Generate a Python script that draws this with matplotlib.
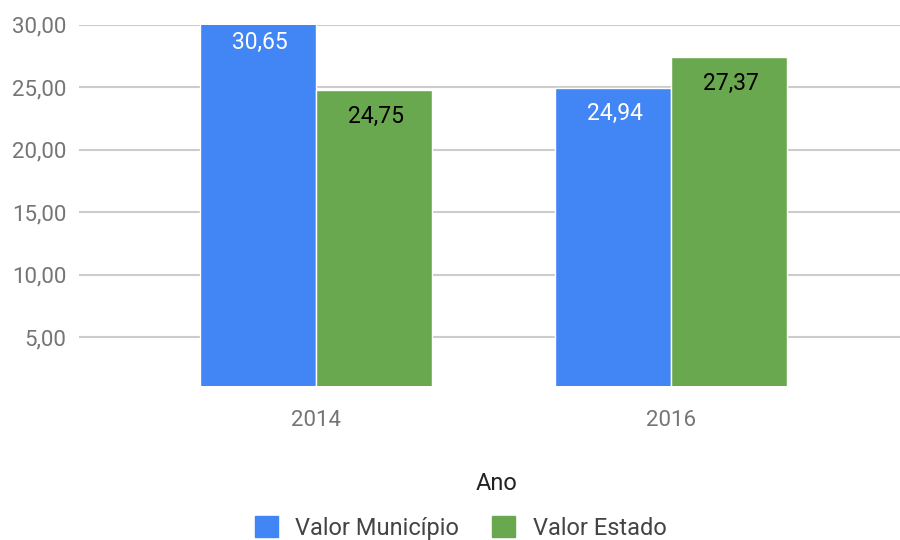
import matplotlib
matplotlib.use("Agg")
import matplotlib.pyplot as plt
from matplotlib.ticker import FuncFormatter
from matplotlib.patches import Patch
import numpy as np

plt.rcParams['font.family'] = ['Roboto', 'DejaVu Sans']

years = ["2014", "2016"]
series_names = ["Valor Município", "Valor Estado"]
valor_municipio = [30.65, 24.94]
valor_estado = [24.75, 27.37]
colors = ["#4285F4", "#6AA84F"]
label_colors = ["white", "black"]
yticks = [5, 10, 15, 20, 25, 30]

fig = plt.figure(figsize=(9, 5.4), dpi=100)
ax = fig.add_axes([79/900, 1-386/540, 1-79/900, (386-24.5)/540])

x = np.arange(len(years))
w = 0.327
for i, (vals, c, lc) in enumerate(zip([valor_municipio, valor_estado], colors, label_colors)):
    pos = x + (i - 0.5) * w
    ax.bar(pos, vals, width=w, color=c, edgecolor="white", linewidth=1, zorder=3)
    for p, v in zip(pos, vals):
        ax.annotate(f"{v:.2f}".replace(".", ","), xy=(p, v), xytext=(2, -26),
                    textcoords="offset pixels", ha="center", va="center",
                    color=lc, fontsize=16.5, annotation_clip=False, zorder=4)

ax.set_ylim(1.08, 30)
ax.set_xlim(-0.668, 1.645)
ax.set_yticks(yticks)
ax.yaxis.set_major_formatter(FuncFormatter(lambda v, p: f"{v:.2f}".replace(".", ",")))
ax.set_xticks(x)
ax.set_xticklabels(years)
ax.grid(axis="y", color="#cccccc", linewidth=1.5, zorder=0)
for s in ax.spines.values():
    s.set_visible(False)
ax.tick_params(axis="both", length=0, labelsize=16, labelcolor="#757575")
ax.tick_params(axis="y", pad=9)
ax.tick_params(axis="x", pad=17)
ax.set_xlabel("Ano", fontsize=17, color="#222222", labelpad=30)
ax.xaxis.label.set_x(0.508)

handles = [Patch(facecolor=c, edgecolor=c) for c in colors]
fig.legend(handles, series_names, loc="center", bbox_to_anchor=(0.512, 0.022), ncol=2,
           frameon=False, fontsize=17, handlelength=0.95, handleheight=0.95,
           handletextpad=0.75, columnspacing=1.4, labelcolor="#444444",
           borderpad=0)

fig.savefig("out.png", dpi=100)
